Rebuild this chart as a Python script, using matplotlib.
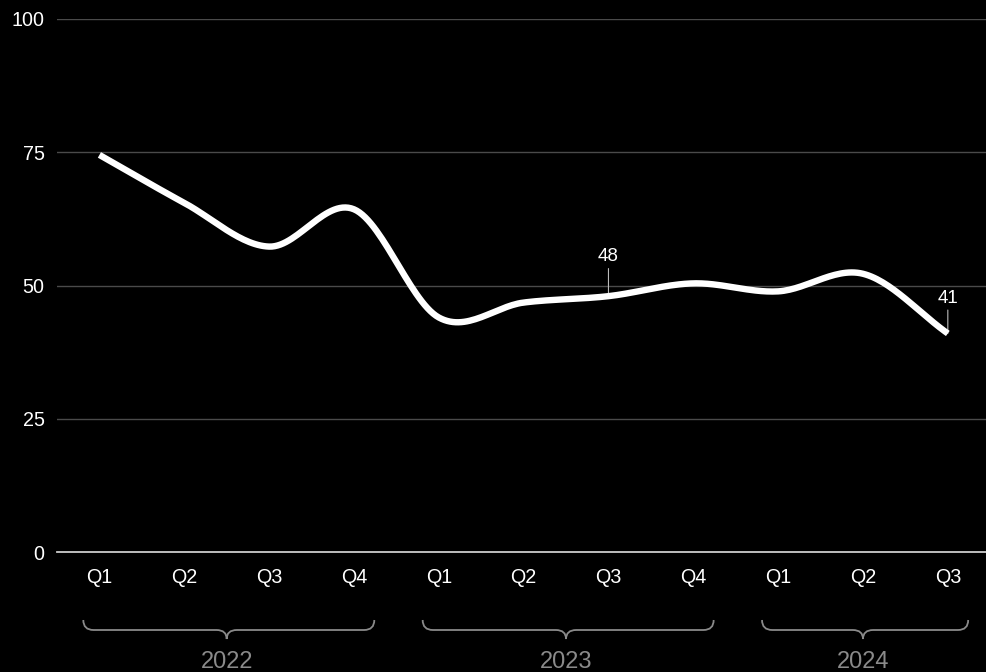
import numpy as np
import matplotlib
matplotlib.use("Agg")
import matplotlib.pyplot as plt
from matplotlib.path import Path
from matplotlib.patches import PathPatch
import matplotlib.transforms as mtransforms

plt.rcParams['font.family'] = ['Liberation Sans', 'DejaVu Sans']

quarters = ["Q1", "Q2", "Q3", "Q4", "Q1", "Q2", "Q3", "Q4", "Q1", "Q2", "Q3"]
years = ["2022", "2023", "2024"]
year_spans = [(0, 3), (4, 7), (8, 10)]
values = [74.5, 65.5, 57.3, 64.3, 44.0, 46.8, 48, 50.4, 48.9, 52.2, 41]
labelled = {6: ("48", 28.5), 10: ("41", 25.5)}

def catmull_rom(x, y, n=30):
    x = np.asarray(x, float); y = np.asarray(y, float)
    px = np.concatenate([[2*x[0]-x[1]], x, [2*x[-1]-x[-2]]])
    py = np.concatenate([[2*y[0]-y[1]], y, [2*y[-1]-y[-2]]])
    xs, ys = [], []
    t = np.linspace(0, 1, n, endpoint=False)
    for i in range(1, len(px)-2):
        p0, p1, p2, p3 = py[i-1], py[i], py[i+1], py[i+2]
        q0, q1, q2, q3 = px[i-1], px[i], px[i+1], px[i+2]
        ys.append(0.5*((2*p1) + (-p0+p2)*t + (2*p0-5*p1+4*p2-p3)*t**2 + (-p0+3*p1-3*p2+p3)*t**3))
        xs.append(0.5*((2*q1) + (-q0+q2)*t + (2*q0-5*q1+4*q2-q3)*t**2 + (-q0+3*q1-3*q2+q3)*t**3))
    xs.append([x[-1]]); ys.append([y[-1]])
    return np.concatenate(xs), np.concatenate(ys)

fig = plt.figure(figsize=(9.86, 6.72), dpi=100, facecolor='black')
ax = fig.add_axes([57/986, 120/672, 1-57/986, 533/672])
ax.set_facecolor('black')

x = np.arange(len(values))
sx, sy = catmull_rom(x, values)
ax.plot(sx, sy, color='white', lw=4.6, solid_capstyle='butt', zorder=3)

for i, (txt, off) in labelled.items():
    ax.annotate(txt, xy=(x[i], values[i]), xytext=(0, off), textcoords='offset points',
                ha='center', va='center', color='white', fontsize=13.5,
                arrowprops=dict(arrowstyle='-', color='#bbbbbb', lw=0.8, shrinkA=0.5, shrinkB=0),
                zorder=2)

ax.set_xlim(-0.5, 10.45)
ax.set_ylim(0, 100)
ax.set_yticks([0, 25, 50, 75, 100])
ax.set_xticks(x)
ax.set_xticklabels(quarters)
ax.grid(axis='y', color='#4a4a4a', lw=1)
ax.set_axisbelow(True)
for s in ['top', 'right', 'left']:
    ax.spines[s].set_visible(False)
ax.spines['bottom'].set_color('#cccccc')
ax.spines['bottom'].set_linewidth(1.3)
ax.tick_params(axis='both', length=0, colors='white', labelsize=14.2)
ax.tick_params(axis='y', pad=9)
ax.tick_params(axis='x', pad=11.5)

# year braces
trans = mtransforms.blended_transform_factory(ax.transData, fig.transFigure)
def fy(p):
    return 1 - p/672
top, mid, bot = fy(620), fy(630), fy(639)
r = 0.12
for (a, b), yr in zip(year_spans, years):
    x0, x1 = a - 0.19, b + 0.24
    xm = (a + b) / 2
    verts = [(x0, top), (x0, mid), (x0 + r, mid),
             (xm - r, mid), (xm, mid), (xm, bot),
             (xm, mid), (xm + r, mid),
             (x1 - r, mid), (x1, mid), (x1, top)]
    codes = [Path.MOVETO, Path.CURVE3, Path.CURVE3,
             Path.LINETO, Path.CURVE3, Path.CURVE3,
             Path.CURVE3, Path.CURVE3,
             Path.LINETO, Path.CURVE3, Path.CURVE3]
    patch = PathPatch(Path(verts, codes), transform=trans, fill=False,
                      edgecolor='#8a8a8a', lw=1.3, clip_on=False)
    ax.add_patch(patch)
    ax.text(xm, fy(662), yr, transform=trans, ha='center', va='center',
            color='#8a8a8a', fontsize=17, clip_on=False)

fig.savefig('out.png', dpi=100, facecolor='black')
